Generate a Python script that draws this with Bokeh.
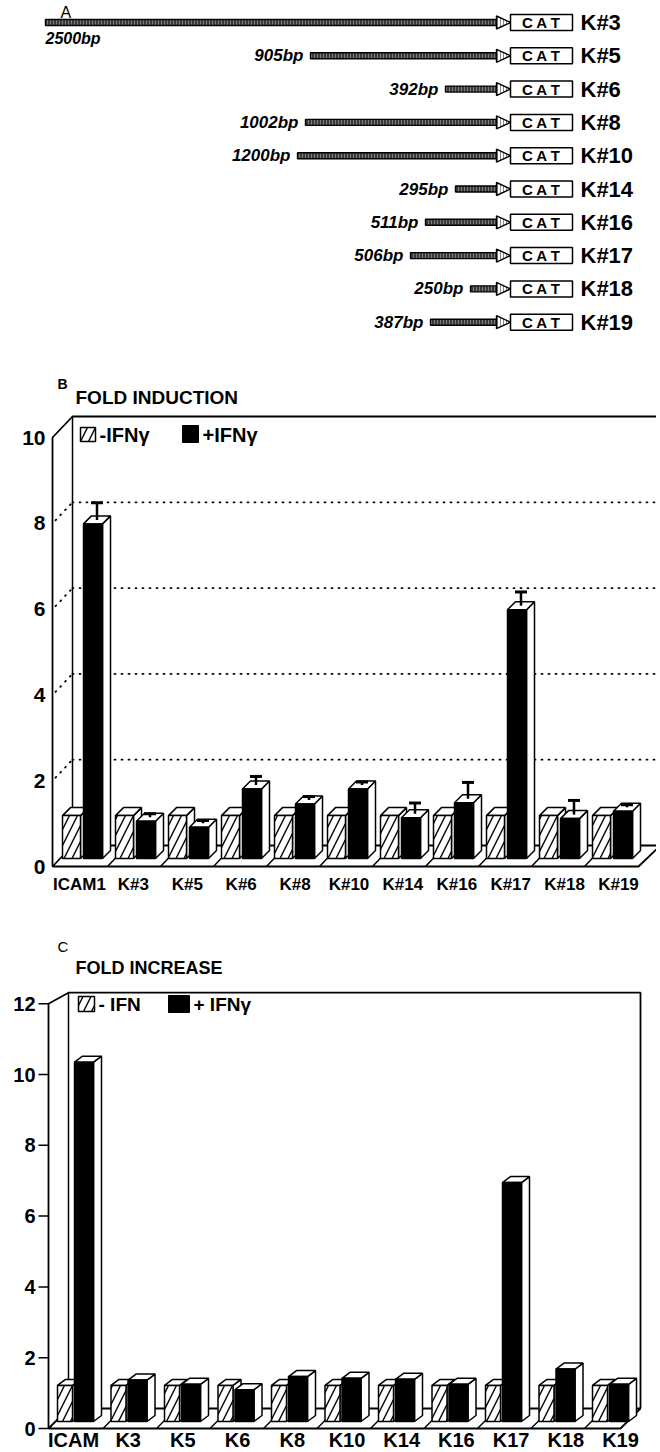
from bokeh.plotting import figure
from bokeh.models import Range1d
from bokeh.embed import file_html
from bokeh.resources import INLINE
from bokeh.core.properties import value

FONT = "Liberation Sans"

# ---------------- data ----------------
# Panel A: promoter deletion constructs driving CAT
constructs = ["K#3", "K#5", "K#6", "K#8", "K#10", "K#14", "K#16", "K#17", "K#18", "K#19"]
promoter_labels = ["2500bp", "905bp", "392bp", "1002bp", "1200bp", "295bp", "511bp", "506bp", "250bp", "387bp"]
# promoter arrow lengths as drawn in the schematic (not to scale)
arrow_lengths = [452, 187, 52, 192, 200, 42, 72, 87, 27, 67]
reporter = "C A T"

# Panel B: fold induction
b_categories = ["ICAM1", "K#3", "K#5", "K#6", "K#8", "K#10", "K#14", "K#16", "K#17", "K#18", "K#19"]
b_minus_ifn = [1.0, 1.0, 1.0, 1.0, 1.0, 1.0, 1.0, 1.0, 1.0, 1.0, 1.0]
b_plus_ifn = [7.8, 0.87, 0.73, 1.62, 1.27, 1.62, 0.95, 1.3, 5.8, 0.93, 1.1]
b_plus_err = [0.4, 0.08, 0.06, 0.2, 0.08, 0.07, 0.25, 0.38, 0.32, 0.33, 0.06]
b_ticks = [0, 2, 4, 6, 8, 10]
b_grid = [2, 4, 6, 8]

# Panel C: fold increase
c_categories = ["ICAM", "K3", "K5", "K6", "K8", "K10", "K14", "K16", "K17", "K18", "K19"]
c_minus_ifn = [1.02, 1.02, 1.02, 1.02, 1.02, 1.02, 1.02, 1.02, 1.02, 1.02, 1.02]
c_plus_ifn = [10.15, 1.17, 1.05, 0.9, 1.27, 1.22, 1.19, 1.05, 6.75, 1.48, 1.05]
c_ticks = [0, 2, 4, 6, 8, 10, 12]

# ---------------- page geometry (single figure, page pixel coordinates) ----------------
W, H = 656, 1450

KB, Y0B = 42.9, 866.0      # panel B: px per unit, page y of front zero
KC, Y0C = 35.4, 1428.0     # panel C


def bv(py):
    return (Y0B - py) / KB


def cv(py):
    return (Y0C - py) / KC


p = figure(width=W, height=H, x_range=Range1d(0, W), y_range=Range1d(H, 0),
           output_backend="svg", toolbar_location=None, x_axis_type=None, y_axis_type=None,
           min_border=0)
p.extra_y_ranges = {"b": Range1d(bv(H), bv(0)), "c": Range1d(cv(H), cv(0))}
p.outline_line_color = None
p.background_fill_color = "white"
p.border_fill_color = "white"
p.xgrid.visible = False
p.ygrid.visible = False


def txt(x, y, s, size, style="bold", align="left", baseline="middle", rn="default"):
    p.text(x=x, y=y, text=s, text_font=value(FONT), text_font_size=size,
           text_font_style=style, text_align=align, text_baseline=baseline, text_color="black",
           y_range_name=rn)


def ln(xs, ys, w=1.6, rn="default"):
    p.line(xs, ys, line_color="black", line_width=w, y_range_name=rn)


# ================= Panel A =================
ARROW_END = 497
BOX_L, BOX_R = 510, 572
row_y = [22 + i * 33.3 for i in range(len(constructs))]
tails = [ARROW_END - L for L in arrow_lengths]

txt([60], [12], ["A"], "16px", style="normal")
p.quad(left=tails, right=[ARROW_END] * len(tails), top=[y - 3 for y in row_y],
       bottom=[y + 3 for y in row_y], fill_color="#3a3a3a", line_color="black", line_width=1.4,
       hatch_pattern="vertical_line", hatch_color="#9a9a9a", hatch_scale=3, hatch_weight=0.7)
p.patches(xs=[[ARROW_END - 1, ARROW_END - 1, BOX_L] for _ in row_y],
          ys=[[y - 6.5, y + 6.5, y] for y in row_y], fill_color="white", line_color="black",
          line_width=1.4, hatch_pattern="vertical_line", hatch_color="#555", hatch_scale=3, hatch_weight=0.7)
p.quad(left=[BOX_L] * len(row_y), right=[BOX_R] * len(row_y), top=[y - 8 for y in row_y],
       bottom=[y + 8 for y in row_y], fill_color="white", line_color="black", line_width=1.5)
txt([(BOX_L + BOX_R) / 2] * len(row_y), row_y, [reporter] * len(row_y), "15px", align="center")
txt([580] * len(row_y), row_y, constructs, "22px")
below = [t < 120 for t in tails]
txt([t for t, b in zip(tails, below) if b], [y + 16 for y, b in zip(row_y, below) if b],
    [s for s, b in zip(promoter_labels, below) if b], "16px", style="bold italic")
txt([t - 7 for t, b in zip(tails, below) if not b], [y for y, b in zip(row_y, below) if not b],
    [s for s, b in zip(promoter_labels, below) if not b], "17px", style="bold italic", align="right")


# ---------------- 3D bar helper ----------------
def bars3d(lefts, width, base, heights, ddx, ddy, black, rn):
    xs_s, ys_s, xs_t, ys_t = [], [], [], []
    for l, h in zip(lefts, heights):
        r = l + width
        t = base + h
        xs_s.append([r, r + ddx, r + ddx, r])
        ys_s.append([base, base + ddy, t + ddy, t])
        xs_t.append([l, r, r + ddx, l + ddx])
        ys_t.append([t, t, t + ddy, t + ddy])
    p.patches(xs_s, ys_s, fill_color="white", line_color="black", line_width=1.5, y_range_name=rn)
    p.patches(xs_t, ys_t, fill_color="white", line_color="black", line_width=1.5, y_range_name=rn)
    rights = [l + width for l in lefts]
    tops = [base + h for h in heights]
    if black:
        p.quad(left=lefts, right=rights, bottom=base, top=tops, fill_color="black",
               line_color="black", line_width=1.5, y_range_name=rn)
    else:
        p.quad(left=lefts, right=rights, bottom=base, top=tops, fill_color="white",
               line_color="black", line_width=1.5, hatch_pattern="right_diagonal_line",
               hatch_color="black", hatch_scale=16, hatch_weight=1.4, y_range_name=rn)


DDX = 8

# ================= Panel B =================
FXB, BXB = 52, 72
DYW = 21 / KB
bmax = b_ticks[-1]
txt([57], [383], ["B"], "14px")
txt([75], [397], ["FOLD INDUCTION"], "19px")
txt([FXB - 7] * len(b_ticks), b_ticks, [str(t) for t in b_ticks], "21px", align="right", rn="b")
p.multi_line(xs=[[BXB, 670] for _ in b_grid], ys=[[g + DYW, g + DYW] for g in b_grid],
             line_color="black", line_width=1.8, line_dash="1 6", line_cap="round", y_range_name="b")
p.multi_line(xs=[[FXB + 3, BXB] for _ in b_grid], ys=[[g + 0.07, g + DYW] for g in b_grid],
             line_color="black", line_width=1.8, line_dash="1 6", line_cap="round", y_range_name="b")
ln([FXB, FXB, BXB, 670], [0, bmax, bmax + DYW, bmax + DYW], w=1.8, rn="b")
ln([BXB, BXB], [DYW, bmax + DYW], w=1.5, rn="b")
nb = len(b_categories)
hl_b = [62 + i * 53.0 for i in range(nb)]
bl_b = [h + 21 for h in hl_b]
p.patch([FXB, 638, 660, BXB], [0, 0, DYW, DYW], fill_color="white", line_color="black",
        line_width=1.8, y_range_name="b")
p.multi_line(xs=[[h - 8, h + 12] for h in hl_b[1:]], ys=[[0, DYW] for _ in hl_b[1:]],
             line_color="black", line_width=1.5, y_range_name="b")
BASE_B, DDY_B = 8 / KB, 8 / KB
bars3d(hl_b, 18, BASE_B, b_minus_ifn, DDX, DDY_B, False, "b")
bars3d(bl_b, 19, BASE_B, b_plus_ifn, DDX, DDY_B, True, "b")
ex = [l + 9.5 + DDX / 2 for l in bl_b]
ey0 = [BASE_B + v + DDY_B / 2 for v in b_plus_ifn]
ey1 = [BASE_B + v + e + DDY_B / 2 for v, e in zip(b_plus_ifn, b_plus_err)]
p.segment(x0=ex, y0=ey0, x1=ex, y1=ey1, line_color="black", line_width=2.5, y_range_name="b")
p.segment(x0=[x - 6 for x in ex], y0=ey1, x1=[x + 6 for x in ex], y1=ey1, line_color="black",
          line_width=3, y_range_name="b")
txt([79 + i * 53.9 for i in range(nb)], [bv(884)] * nb, b_categories, "17px", align="center", rn="b")
# legend
p.quad(left=[80], right=[95], top=[427], bottom=[441], fill_color="white", line_color="black",
       line_width=1.5, hatch_pattern="right_diagonal_line", hatch_color="black", hatch_scale=16,
       hatch_weight=1.4)
p.quad(left=[182], right=[198], top=[425], bottom=[442], fill_color="black", line_color="black")
txt([99, 202], [434, 434], ["-IFN\u03b3", "+IFN\u03b3"], "20px")

# ================= Panel C =================
FXC, BXC, RXC = 48, 68, 640
DYC_TOP = 11 / KC      # slant at the top-left corner of the back wall
DYC = 20 / KC          # floor depth
cmax = c_ticks[-1]
txt([57], [946], ["C"], "15px", style="normal")
txt([75], [967], ["FOLD INCREASE"], "18px")
p.segment(x0=[FXC - 10] * len(c_ticks), y0=c_ticks, x1=[FXC] * len(c_ticks), y1=c_ticks,
          line_color="black", line_width=1.5, y_range_name="c")
txt([FXC - 13] * len(c_ticks), c_ticks, [str(t) for t in c_ticks], "20px", align="right", rn="c")
ln([FXC, FXC, BXC, RXC, RXC], [0, cmax, cmax + DYC_TOP, cmax + DYC_TOP, DYC], w=1.8, rn="c")
ln([BXC, BXC], [DYC, cmax + DYC_TOP], w=1.5, rn="c")
nc = len(c_categories)
hl_c = [57 + i * 53.5 for i in range(nc)]
bl_c = [h + 17 for h in hl_c]
p.patch([FXC, RXC - 20, RXC, BXC], [0, 0, DYC, DYC], fill_color="white", line_color="black",
        line_width=1.8, y_range_name="c")
p.multi_line(xs=[[h - 8, h + 12] for h in hl_c[1:]], ys=[[0, DYC] for _ in hl_c[1:]],
             line_color="black", line_width=1.5, y_range_name="c")
BASE_C, DDY_C = 7 / KC, 6 / KC
bars3d(hl_c, 15, BASE_C, c_minus_ifn, DDX, DDY_C, False, "c")
bars3d(bl_c, 19, BASE_C, c_plus_ifn, DDX, DDY_C, True, "c")
txt([73 + i * 54.7 for i in range(nc)], [cv(1439)] * nc, c_categories, "20px", align="center",
    baseline="middle", rn="c")
# legend
p.quad(left=[78], right=[94], top=[996], bottom=[1011], fill_color="white", line_color="black",
       line_width=1.5, hatch_pattern="right_diagonal_line", hatch_color="black", hatch_scale=16,
       hatch_weight=1.4)
p.quad(left=[168], right=[189], top=[995], bottom=[1012], fill_color="black", line_color="black")
txt([98, 193], [1004, 1004], ["- IFN", "+ IFN\u03b3"], "19px")

open("out.html", "w").write(file_html(p, INLINE))
